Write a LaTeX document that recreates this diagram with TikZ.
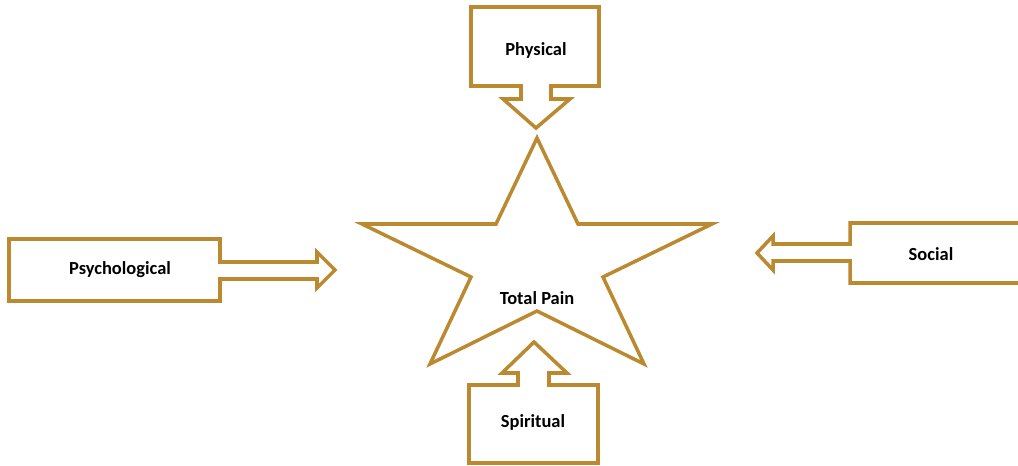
\documentclass[tikz,border=0pt]{standalone}
\usepackage{fontspec}
\setmainfont{Carlito}
\definecolor{gold}{RGB}{186,137,48}

\begin{document}
\begin{tikzpicture}[x=0.02cm, y=-0.02cm]
    \tikzset{outline/.style = {draw=gold, line width=2pt, line join=miter, fill=white}}
    \tikzset{caption/.style = {font=\bfseries\fontsize{10.5}{12}\selectfont, inner sep=0pt}}
    \useasboundingbox (0,0) rectangle (1018,466);
    % star
    \draw[outline] (537,138) -- (496,224) -- (362,224) -- (471,277) -- (430,364) -- (537,311)
        -- (644,364) -- (603,277) -- (712,224) -- (578,224) -- cycle;
    % callouts
    \draw[outline] (471,7) -- (599,7) -- (599,86) -- (551,86) -- (551,99) -- (570,99) -- (536,128)
        -- (503,99) -- (521,99) -- (521,86) -- (471,86) -- cycle;
    \draw[outline] (9,239) -- (220,239) -- (220,262) -- (317,262) -- (317,252) -- (335,270)
        -- (317,288) -- (317,279) -- (220,279) -- (220,301) -- (9,301) -- cycle;
    \draw[outline] (1025,223) -- (850,223) -- (850,244) -- (773,244) -- (773,236) -- (757,253)
        -- (773,270) -- (773,261) -- (850,261) -- (850,283) -- (1025,283) -- cycle;
    \draw[outline] (469,463) -- (469,385) -- (518,385) -- (518,373) -- (502,373) -- (534,342)
        -- (567,373) -- (549,373) -- (549,385) -- (598,385) -- (598,463) -- cycle;
    % labels
    \node[caption] (physical) at (536,50) {Physical};
    \node[caption] (psychological) at (120,270) {Psychological};
    \node[caption] (social) at (931,254) {Social};
    \node[caption] (spiritual) at (533,422) {Spiritual};
    \node[caption] (total) at (537,298) {Total Pain};
\end{tikzpicture}
\end{document}
